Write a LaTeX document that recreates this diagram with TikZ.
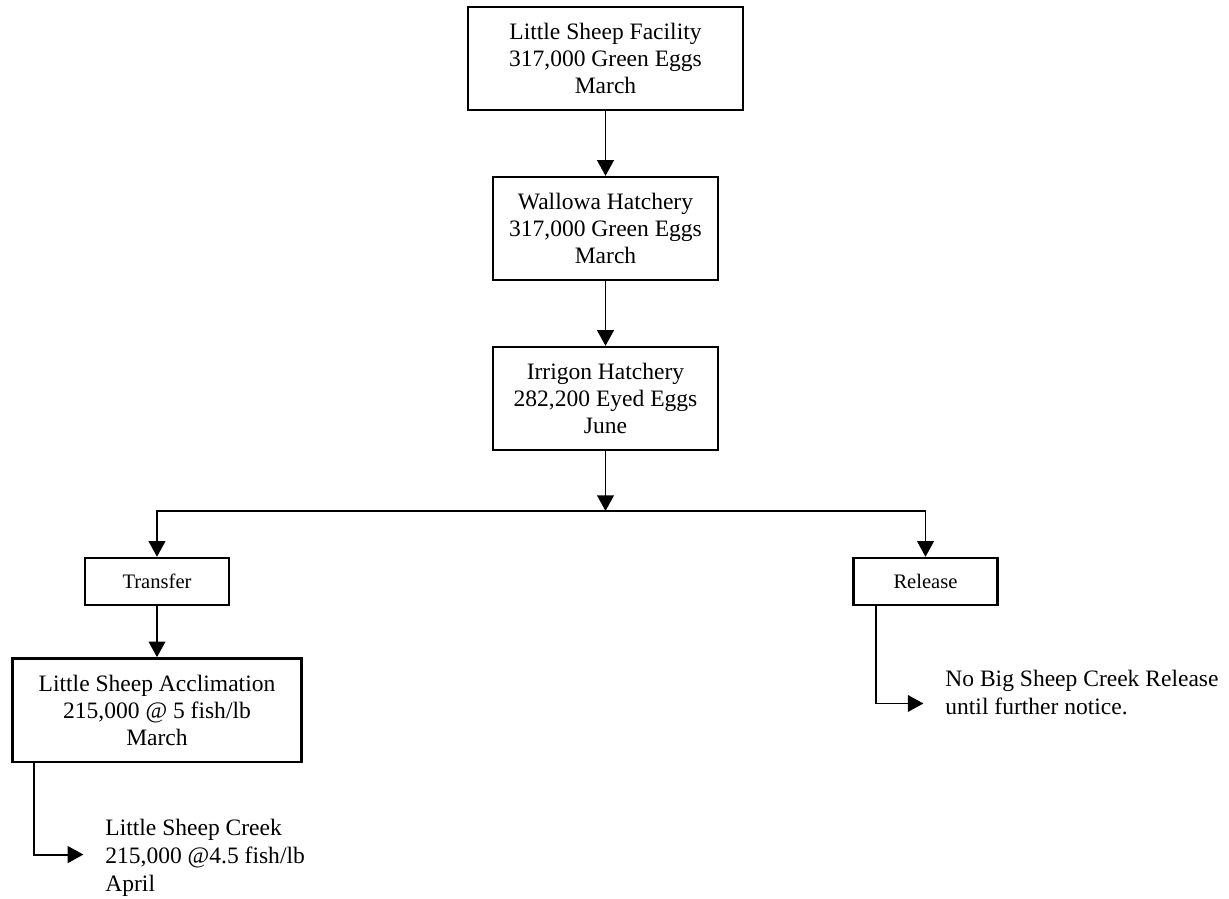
\documentclass[tikz,border=0pt]{standalone}
\usepackage{fontspec}
\setmainfont{Liberation Serif}
\usetikzlibrary{arrows.meta, positioning}

\begin{document}
\begin{tikzpicture}[
  x=0.51pt, y=-0.51pt,
  stage/.style = {
    draw,
    line width=1.2pt,
    align=center,
    minimum height=52.5pt,
    font=\fontsize{12}{13.8}\selectfont
  },
  tag/.style = {
    draw,
    line width=1.2pt,
    align=center,
    minimum width=73.5pt,
    minimum height=24pt,
    font=\fontsize{10.5}{12}\selectfont
  },
  note/.style = {
    align=left,
    anchor=west,
    inner sep=0pt,
    font=\fontsize{12}{14.2}\selectfont
  },
  arrow/.style = {line width=1pt, -{Triangle[length=8pt, width=8.5pt]}},
  node distance=33pt
]
\useasboundingbox (0,0) rectangle (1229,899);

% ======================================================
% EGG PATH
% ======================================================

\node[stage, minimum width=140pt] (facility) at (605.5,58.5)
  {Little Sheep Facility\\317,000 Green Eggs\\March};

\node[stage, minimum width=115pt, below=of facility] (wallowa)
  {Wallowa Hatchery\\317,000 Green Eggs\\March};

\node[stage, minimum width=115pt, below=of wallowa] (irrigon)
  {Irrigon Hatchery\\282,200 Eyed Eggs\\June};

\coordinate (split) at (irrigon.south |- 0,511);

% ---- Branches ----
\node[tag] (transfer) at (157,581.5) {Transfer};
\node[tag] (release) at (925.5,581.5) {Release};

\node[stage, minimum width=147.5pt, minimum height=53pt, below=26pt of transfer] (acclim)
  {Little Sheep Acclimation\\215,000 @ 5 fish/lb\\March};

\node[note] (creek) at (105,857.5)
  {Little Sheep Creek\\215,000 @4.5 fish/lb\\April};

\node[note] (nobig) at (945,692.5)
  {No Big Sheep Creek Release\\until further notice.};

% ---- Arrows ----
\draw[arrow] (facility) -- (wallowa);
\draw[arrow] (wallowa) -- (irrigon);
\draw[arrow] (irrigon) -- (split);
\draw[arrow] (split) -| (transfer);
\draw[arrow] (split) -| (release);
\draw[arrow] (transfer) -- (acclim);

\draw[arrow] ([xshift=11.7pt]acclim.south west) |- ([xshift=-11pt, yshift=1.5pt]creek.west);
\draw[arrow] ([xshift=12.2pt]release.south west) |- ([xshift=-11pt, yshift=-5.6pt]nobig.west);

\end{tikzpicture}
\end{document}
